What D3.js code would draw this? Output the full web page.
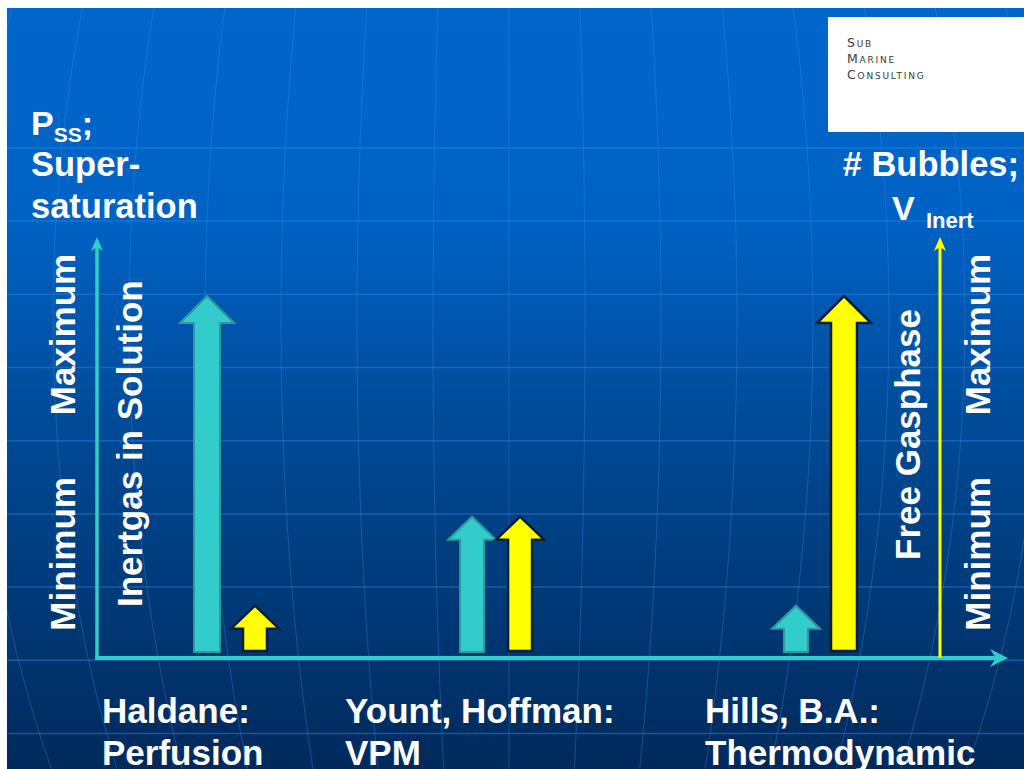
<!DOCTYPE html>
<html>
<head>
<meta charset="utf-8">
<script src="https://cdn.jsdelivr.net/npm/d3@7"></script>
<style>
  html, body { margin: 0; padding: 0; background: #ffffff; }
  svg { display: block; }
  text { font-family: "Liberation Sans", Arial, sans-serif; }
</style>
</head>
<body>
<svg id="chart" width="1024" height="769"></svg>
<script>
// Decompression models and their relative emphasis on dissolved vs. free gas
const models = ["Haldane:", "Yount, Hoffman:", "Hills, B.A.:"];
const modelTypes = ["Perfusion", "VPM", "Thermodynamic"];
// place of each model along the perfusion -> thermodynamic spectrum
const modelPosition = [0, 0.45, 1];
// relative level (0 = minimum, 100 = maximum)
const inertgasInSolution = [100, 38, 13];
const freeGasphase = [13, 38, 100];
const levelLabels = ["Minimum", "Maximum"];
const levelValues = [6, 66.5];

// layout
const W = 1024, H = 769;
const slide = { x: 7, y: 8 };
const axisX = 97, axisY = 658, axisTop = 237, axisRight = 1008;
const rightAxisX = 940;
const labelLeft = [102, 345, 705];
const cyan = "#33CCCC", yellow = "#FFFF00";

const svg = d3.select("#chart");
const defs = svg.append("defs");

const bg = defs.append("linearGradient").attr("id", "bg")
  .attr("x1", 0).attr("y1", 0).attr("x2", 0).attr("y2", 1);
[[0, "#0066CC"], [0.28, "#0062C4"], [0.6, "#00468F"], [1, "#002A5B"]]
  .forEach(([o, c]) => bg.append("stop").attr("offset", o).attr("stop-color", c));

defs.append("clipPath").attr("id", "slideClip")
  .append("rect").attr("x", slide.x).attr("y", slide.y)
  .attr("width", W - slide.x).attr("height", H - slide.y);

svg.append("rect").attr("x", slide.x).attr("y", slide.y)
  .attr("width", W - slide.x).attr("height", H - slide.y)
  .attr("fill", "url(#bg)");

// globe-like background grid
const grid = svg.append("g").attr("clip-path", "url(#slideClip)");
d3.range(2, 11).forEach(i => {
  const gy = 1.5 + i * 73.2;
  grid.append("line").attr("x1", slide.x).attr("x2", W).attr("y1", gy).attr("y2", gy)
    .attr("stroke", "#2F86E6").attr("stroke-opacity", 0.45).attr("stroke-width", 1.5);
});
grid.append("line").attr("x1", 509).attr("x2", 509).attr("y1", slide.y).attr("y2", H)
  .attr("stroke", "#3A8CE8").attr("stroke-opacity", 0.35).attr("stroke-width", 1);
d3.range(1, 8).forEach(k => {
  grid.append("ellipse").attr("cx", 509).attr("cy", 320)
    .attr("rx", 76 * k).attr("ry", 880)
    .attr("fill", "none").attr("stroke", "#3A8CE8")
    .attr("stroke-opacity", 0.35).attr("stroke-width", 1);
});

// logo box
svg.append("rect").attr("x", 828).attr("y", 17).attr("width", W - 828).attr("height", 115)
  .attr("fill", "#ffffff");
["Sub", "Marine", "Consulting"].forEach((t, i) => {
  svg.append("text").attr("x", 847).attr("y", 47 + i * 15.8)
    .style("font-family", "'DejaVu Sans', Verdana, sans-serif")
    .style("font-variant", "small-caps")
    .style("font-size", "12.5px")
    .style("letter-spacing", "1.8px")
    .attr("fill", "#3a3a3a").text(t);
});

// scales
const y = d3.scaleLinear().domain([0, 100]).range([652, 296]);
const x = d3.scaleLinear().domain([0, 1]).range([231, 820]);

// axes
const axes = svg.append("g");
axes.append("line").attr("x1", axisX).attr("x2", axisX).attr("y1", axisY + 2).attr("y2", axisTop + 10)
  .attr("stroke", cyan).attr("stroke-width", 3.5);
axes.append("path").attr("d", `M${axisX - 6},${axisTop + 14} L${axisX},${axisTop} L${axisX + 6},${axisTop + 14} L${axisX},${axisTop + 10} Z`)
  .attr("fill", cyan);
axes.append("line").attr("x1", axisX - 1.5).attr("x2", axisRight - 10).attr("y1", axisY).attr("y2", axisY)
  .attr("stroke", cyan).attr("stroke-width", 4);
axes.append("path").attr("d", `M${axisRight - 18},${axisY - 9} L${axisRight},${axisY} L${axisRight - 18},${axisY + 9} L${axisRight - 12},${axisY} Z`)
  .attr("fill", cyan);
axes.append("line").attr("x1", rightAxisX).attr("x2", rightAxisX).attr("y1", axisY).attr("y2", axisTop + 10)
  .attr("stroke", yellow).attr("stroke-width", 3);
axes.append("path").attr("d", `M${rightAxisX - 6},${axisTop + 14} L${rightAxisX},${axisTop} L${rightAxisX + 6},${axisTop + 14} L${rightAxisX},${axisTop + 10} Z`)
  .attr("fill", yellow);

// block arrow shape
function arrowPath(cx, base, tip, big) {
  const sw = big ? 26 : 24, hw = big ? 54 : 48, hh = big ? 27 : 23;
  return `M${cx - sw / 2},${base} L${cx - sw / 2},${tip + hh} L${cx - hw / 2},${tip + hh} ` +
         `L${cx},${tip} L${cx + hw / 2},${tip + hh} L${cx + sw / 2},${tip + hh} L${cx + sw / 2},${base} Z`;
}

const arrows = svg.append("g");
models.forEach((m, i) => {
  const c = x(modelPosition[i]);
  const sol = inertgasInSolution[i], gas = freeGasphase[i];
  arrows.append("path")
    .attr("d", arrowPath(c - 24, y(0), y(sol), sol > 60))
    .attr("fill", cyan).attr("stroke", "#2A9C9E").attr("stroke-width", 2)
    .attr("stroke-linejoin", "miter");
  arrows.append("path")
    .attr("d", arrowPath(c + 24, y(0) - 1, y(gas), gas > 60))
    .attr("fill", yellow).attr("stroke", "#0B1E36").attr("stroke-width", 2.5)
    .attr("stroke-linejoin", "miter");
});

const white = "#ffffff";
function rotText(tx, ty, str, size) {
  svg.append("text").attr("transform", `translate(${tx},${ty}) rotate(-90)`)
    .attr("fill", white).style("font-weight", "bold").style("font-size", size + "px")
    .text(str);
}
// level labels on both sides
levelLabels.forEach((t, i) => {
  rotText(75, y(levelValues[i]), t, 35);
  rotText(990, y(levelValues[i]), t, 35);
});
rotText(142, 607, "Inertgas in Solution", 35);
rotText(920, 560, "Free Gasphase", 35);

// left axis title
const lt = svg.append("text").attr("fill", white).style("font-weight", "bold").style("font-size", "34px");
lt.append("tspan").attr("x", 31).attr("y", 135).text("P");
lt.append("tspan").attr("dy", 7).style("font-size", "21px").text("SS");
lt.append("tspan").attr("dy", -7).text(";");
["Super-", "saturation"].forEach((t, i) => {
  svg.append("text").attr("x", 31).attr("y", 176 + i * 42).attr("fill", white)
    .style("font-weight", "bold").style("font-size", "34.5px").text(t);
});

// right axis title
svg.append("text").attr("x", 1019).attr("y", 176).attr("text-anchor", "end").attr("fill", white)
  .style("font-weight", "bold").style("font-size", "34.5px").text("# Bubbles;");
svg.append("text").attr("x", 892).attr("y", 220).attr("fill", white)
  .style("font-weight", "bold").style("font-size", "34px").text("V");
svg.append("text").attr("x", 926).attr("y", 228).attr("fill", white)
  .style("font-weight", "bold").style("font-size", "22px").text("Inert");

// model names under the axis
models.forEach((m, i) => {
  svg.append("text").attr("x", labelLeft[i]).attr("y", 723).attr("fill", white)
    .style("font-weight", "bold").style("font-size", "35px").text(m);
  svg.append("text").attr("x", labelLeft[i]).attr("y", 765).attr("fill", white)
    .style("font-weight", "bold").style("font-size", "35px").text(modelTypes[i]);
});
</script>
</body>
</html>
